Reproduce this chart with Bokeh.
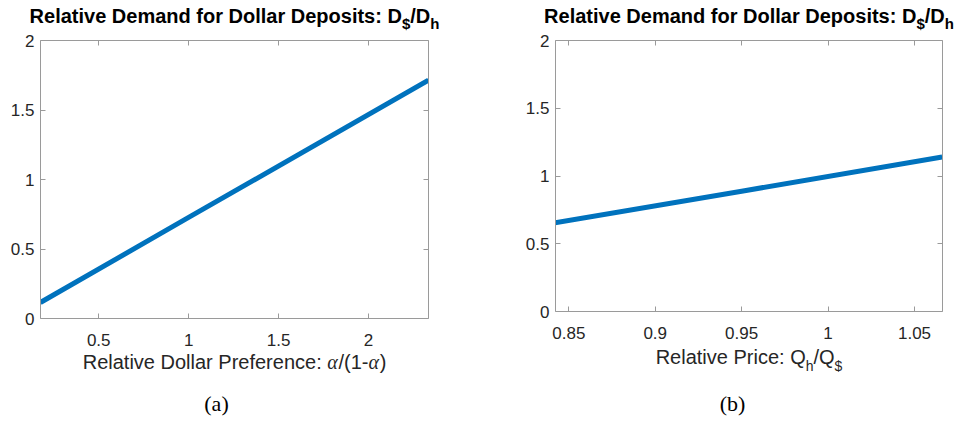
from bokeh.plotting import figure
from bokeh.models import Range1d, FixedTicker, LinearAxis
from bokeh.layouts import row, column
from bokeh.core.properties import value
from bokeh.embed import file_html
from bokeh.resources import INLINE

# ---------------- data ----------------
# Panel (a): relative demand vs relative dollar preference alpha/(1-alpha)
pref_ratio = [0.176, 1.0, 2.333]
demand_a = [0.115, 0.727, 1.715]
xa_limits = [0.1765, 2.3333]
xa_ticks = [0.5, 1, 1.5, 2]
xa_labels = ["0.5", "1", "1.5", "2"]

# Panel (b): relative demand vs relative price Q_h/Q_$
price_ratio = [0.842, 0.95, 1.066]
demand_b = [0.655, 0.888, 1.14]
xb_limits = [0.8423, 1.0662]
xb_ticks = [0.85, 0.9, 0.95, 1.0, 1.05]
xb_labels = ["0.85", "0.9", "0.95", "1", "1.05"]

y_limits = [0, 2]
y_ticks = [0, 0.5, 1, 1.5, 2]
y_labels = ["0", "0.5", "1", "1.5", "2"]

# title: "Relative Demand for Dollar Deposits: D_$/D_h"  (pieces, subscript flag)
title_parts = [("Relative Demand for Dollar Deposits: D", False), ("$", True),
               ("/D", False), ("h", True)]
# x label (a): "Relative Dollar Preference: alpha/(1-alpha)"  (pieces, greek flag)
xlabel_a_parts = [("Relative Dollar Preference: ", False), ("\u03b1", True),
                  ("/(1-", False), ("\u03b1", True), (")", False)]
# x label (b): "Relative Price: Q_h/Q_$"  (pieces, subscript flag)
xlabel_b_parts = [("Relative Price: Q", False), ("h", True), ("/Q", False), ("$", True)]
captions = ["(a)", "(b)"]

LINE_COLOR = "#0072BD"
AXIS_COLOR = "#9a9a9a"
TEXT_COLOR = "#262626"
FONT = "Liberation Sans"
SERIF = "Liberation Serif"

# Arial / Liberation Sans advance widths (per 1000 em) for the characters used
W_REG = {" ": 278, "(": 333, ")": 333, "-": 333, "/": 278, ":": 278, "1": 556, "$": 556,
         "R": 722, "e": 556, "l": 222, "a": 556, "t": 278, "i": 222, "v": 500, "D": 722,
         "o": 556, "r": 333, "P": 667, "f": 278, "n": 556, "c": 500, "Q": 778, "h": 556}
W_BOLD = {" ": 278, "R": 722, "e": 556, "l": 278, "a": 556, "t": 333, "i": 278, "v": 556,
          "D": 722, "m": 889, "n": 611, "d": 611, "f": 333, "o": 611, "r": 389, "p": 611,
          "s": 556, ":": 333, "/": 278, "$": 556, "h": 611}
W_GREEK = 560
BASELINE_SHIFT = 0.34   # measured offset of the rendered baseline (in em)
OVERLAP = 8             # bottom text strips overlap the panels' lower border


def text_width(s, size, bold=False, greek=False):
    if greek:
        return W_GREEK * size / 1000.0 * len(s)
    table = W_BOLD if bold else W_REG
    return sum(table.get(ch, 556) for ch in s) * size / 1000.0


# ---------------- panels ----------------
def style_axis(ax, ticks, labels, show_labels=True):
    ax.ticker = FixedTicker(ticks=ticks)
    ax.major_label_overrides = dict(zip(ticks, labels))
    ax.axis_line_color = AXIS_COLOR
    ax.axis_line_width = 1
    ax.major_tick_line_color = AXIS_COLOR
    ax.major_tick_in = 5
    ax.major_tick_out = 0
    ax.minor_tick_line_color = None
    ax.major_label_text_font = FONT
    if show_labels:
        ax.major_label_text_color = TEXT_COLOR
        ax.major_label_text_font_size = "17px"
    else:
        ax.major_label_text_color = None
        ax.major_label_text_font_size = "1px"
        ax.major_label_standoff = 0


def make_panel(width, height, xlim, xticks, xlabels, xs, ys, bl, br, bt, bb):
    p = figure(width=width, height=height,
               x_range=Range1d(*xlim), y_range=Range1d(*y_limits),
               output_backend="svg", toolbar_location=None,
               min_border_left=bl, min_border_right=br,
               min_border_top=bt, min_border_bottom=bb)
    p.grid.visible = False
    p.outline_line_color = None
    bottom = p.below[0]
    left = p.left[0]
    top = LinearAxis()
    right = LinearAxis()
    p.add_layout(top, "above")
    p.add_layout(right, "right")
    style_axis(bottom, xticks, xlabels)
    style_axis(left, y_ticks, y_labels)
    style_axis(top, xticks, xlabels, show_labels=False)
    style_axis(right, y_ticks, y_labels, show_labels=False)
    bottom.major_label_standoff = 15
    left.major_label_standoff = 6
    p.line(xs, ys, line_width=5, line_color=LINE_COLOR)
    return p


def text_strip(x0, width, top, height, margin=None):
    # a bare, transparent figure whose data coordinates equal page pixels (y grows downward)
    kw = {} if margin is None else {"margin": margin}
    p = figure(width=width, height=height,
               x_range=Range1d(x0, x0 + width), y_range=Range1d(top + height, top),
               output_backend="svg", toolbar_location=None,
               x_axis_location=None, y_axis_location=None,
               min_border=0, min_border_left=0, min_border_right=0,
               min_border_top=0, min_border_bottom=0, **kw)
    p.grid.visible = False
    p.outline_line_color = None
    p.background_fill_color = None
    p.border_fill_color = None
    return p


def draw_text(p, x, base, s, size, bold=False, font=FONT, italic=False, color="black", align="left"):
    style = "bold" if bold else ("italic" if italic else "normal")
    p.text(x=[x], y=[base - BASELINE_SHIFT * size], text=[s], text_font=value(font),
           text_font_size=value(f"{size}px"), text_font_style=style, text_color=color,
           text_align=align, text_baseline="alphabetic")


def draw_title(p, center, base, right_limit):
    main, sub = 20, 15
    total = sum(text_width(s, sub if is_sub else main, bold=True) for s, is_sub in title_parts)
    x = min(center - total / 2, right_limit - total)
    for s, is_sub in title_parts:
        size = sub if is_sub else main
        draw_text(p, x, base + (6 if is_sub else 0), s, size, bold=True)
        x += text_width(s, size, bold=True)


def draw_xlabel_a(p, center, base):
    size = 20
    total = sum(text_width(s, size, greek=g) for s, g in xlabel_a_parts)
    x = center - total / 2
    for s, g in xlabel_a_parts:
        if g:
            draw_text(p, x, base, s, size, font=SERIF, italic=True, color=TEXT_COLOR)
        else:
            draw_text(p, x, base, s, size, color=TEXT_COLOR)
        x += text_width(s, size, greek=g)


def draw_xlabel_b(p, center, base):
    main, sub = 20, 14
    total = sum(text_width(s, sub if is_sub else main) for s, is_sub in xlabel_b_parts)
    x = center - total / 2
    for s, is_sub in xlabel_b_parts:
        size = sub if is_sub else main
        draw_text(p, x, base + (7 if is_sub else 0), s, size, color=TEXT_COLOR)
        x += text_width(s, size)


# ---------- panel (a): page x 0..470 ----------
top_a = text_strip(0, 470, 0, 31)
draw_title(top_a, 234, 22, 468)
pa = make_panel(470, 322, xa_limits, xa_ticks, xa_labels, pref_ratio, demand_a,
                bl=40, br=42, bt=9, bb=35)          # page y 31..353, frame 40..318
bot_a = text_strip(0, 470, 353 - OVERLAP, 69 + OVERLAP, margin=(-OVERLAP, 0, 0, 0))
draw_xlabel_a(bot_a, 234, 368)
draw_text(bot_a, 216, 410, captions[0], 22, font=SERIF, align="center")

# ---------- panel (b): page x 470..958 ----------
top_b = text_strip(470, 488, 0, 31)
draw_title(top_b, 748.5, 22, 955)
pb = make_panel(488, 316, xb_limits, xb_ticks, xb_labels, price_ratio, demand_b,
                bl=85, br=16, bt=9, bb=36)          # page y 31..347, frame 40..311
bot_b = text_strip(470, 488, 347 - OVERLAP, 75 + OVERLAP, margin=(-OVERLAP, 0, 0, 0))
draw_xlabel_b(bot_b, 748.5, 363)
draw_text(bot_b, 732, 410, captions[1], 22, font=SERIF, align="center")

# panels wrapped in rows so the column does not align the text strips to their frames
layout = row(column(top_a, row(pa), bot_a), column(top_b, row(pb), bot_b))
open("out.html", "w").write(file_html(layout, INLINE))
